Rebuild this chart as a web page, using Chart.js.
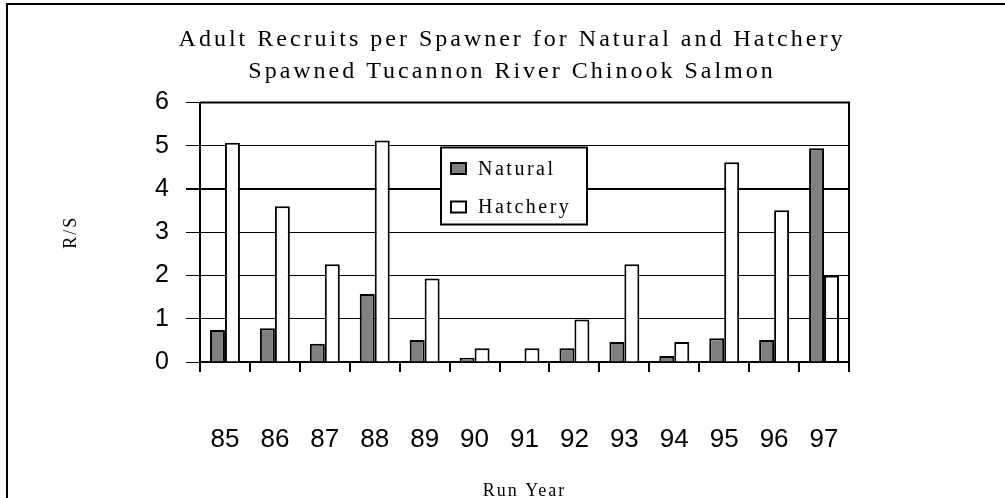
<!DOCTYPE html>
<html>
<head>
<meta charset="utf-8">
<script src="https://cdn.jsdelivr.net/npm/chart.js@4.4.1/dist/chart.umd.min.js"></script>
<style>
html,body{margin:0;padding:0;background:#fff;}
#wrap{width:1005px;height:498px;position:relative;overflow:hidden;}
canvas{display:block;}
</style>
</head>
<body>
<div id="wrap"><canvas id="c" width="1005" height="498"></canvas></div>
<script>
// ---- data ----
const runYears = ['85','86','87','88','89','90','91','92','93','94','95','96','97'];
const naturalRS = [0.74, 0.78, 0.42, 1.57, 0.51, 0.10, 0, 0.32, 0.46, 0.14, 0.55, 0.51, 4.94];
const hatcheryRS = [5.07, 3.60, 2.26, 5.12, 1.93, 0.32, 0.32, 0.98, 2.26, 0.46, 4.62, 3.51, 2.00];
const yTickValues = [0, 1, 2, 3, 4, 5, 6];
const seriesNames = ['Natural', 'Hatchery'];
const titleLines = ['Adult Recruits per Spawner for Natural and Hatchery', 'Spawned Tucannon River Chinook Salmon'];
const xAxisTitle = 'Run Year';
const yAxisTitle = 'R/S';

// ---- styles ----
const NAT_FILL = '#808080';
const HAT_FILL = '#ffffff';
const SERIF = 'Liberation Serif';
const SANS = 'Liberation Sans';
const spacingBySize = {24: '3px', 20: '2.5px', 18: '2px'};

const canvas = document.getElementById('c');
const ctx = canvas.getContext('2d');

// letter spacing for serif texts (title, axis titles)
const origFillText = ctx.fillText;
ctx.fillText = function (text, x, y, maxWidth) {
  const m = /(\d+(?:\.\d+)?)px.*Serif/.exec(this.font);
  const prev = this.letterSpacing;
  if (m && spacingBySize[Math.round(parseFloat(m[1]))]) {
    this.letterSpacing = spacingBySize[Math.round(parseFloat(m[1]))];
  }
  if (maxWidth === undefined) origFillText.call(this, text, x, y);
  else origFillText.call(this, text, x, y, maxWidth);
  this.letterSpacing = prev;
};

const framePlugin = {
  id: 'frame',
  beforeDraw(chart) {
    const c = chart.ctx;
    c.save();
    c.fillStyle = '#fff';
    c.fillRect(0, 0, chart.width, chart.height);
    c.strokeStyle = '#000';
    c.lineWidth = 2;
    c.beginPath();
    c.moveTo(7, chart.height + 5);
    c.lineTo(7, 4);
    c.lineTo(chart.width + 5, 4);
    c.stroke();
    c.restore();
  },
  afterDatasetsDraw(chart) {
    const a = chart.chartArea;
    const c = chart.ctx;
    c.save();
    c.strokeStyle = '#000';
    c.lineWidth = 2;
    c.beginPath();
    c.moveTo(a.left, a.top);
    c.lineTo(a.right, a.top);
    c.lineTo(a.right, a.bottom);
    c.stroke();
    c.restore();
  }
};

const boxLegendPlugin = {
  id: 'boxLegend',
  afterDraw(chart) {
    const a = chart.chartArea;
    const c = chart.ctx;
    const x0 = a.left + 241, y0 = a.top + 45, w = 146, h = 77;
    c.save();
    c.fillStyle = '#fff';
    c.fillRect(x0, y0, w, h);
    c.strokeStyle = '#000';
    c.lineWidth = 2;
    c.strokeRect(x0, y0, w, h);
    c.font = '20px "' + SERIF + '"';
    c.textBaseline = 'middle';
    c.textAlign = 'left';
    c.letterSpacing = '2.5px';
    const legendFills = [NAT_FILL, HAT_FILL];
    chart.data.datasets.forEach((ds, i) => {
      const cy = y0 + 21 + i * 38.5;
      c.fillStyle = legendFills[i];
      c.fillRect(x0 + 10, cy - 5.5, 15, 11);
      c.strokeStyle = '#000';
      c.lineWidth = 2;
      c.strokeRect(x0 + 10, cy - 5.5, 15, 11);
      c.fillStyle = '#000';
      origFillText.call(c, ds.label, x0 + 37, cy + 1);
    });
    c.restore();
  }
};

new Chart(ctx, {
  type: 'bar',
  data: {
    labels: runYears,
    datasets: [
      {
        label: seriesNames[0],
        data: naturalRS,
        backgroundColor: NAT_FILL,
        borderColor: '#000',
        borderWidth: 2,
        categoryPercentage: 0.6,
        barPercentage: 1.0
      },
      {
        label: seriesNames[1],
        data: hatcheryRS,
        backgroundColor: hatcheryRS.map((v, i) => i === hatcheryRS.length - 1 ? 'rgba(255,255,255,0)' : HAT_FILL),
        borderColor: '#000',
        borderWidth: 2,
        categoryPercentage: 0.6,
        barPercentage: 1.0
      }
    ]
  },
  options: {
    responsive: false,
    animation: false,
    devicePixelRatio: 1,
    layout: { padding: { left: 19, right: 0, top: 0, bottom: 0 } },
    plugins: {
      legend: { display: false },
      tooltip: { enabled: false },
      title: {
        display: true,
        text: titleLines,
        color: '#000',
        font: { family: SERIF, size: 24, weight: 'normal', lineHeight: 32 / 24 },
        padding: { top: 24, bottom: 14.5 }
      }
    },
    scales: {
      x: {
        grid: { display: true, drawOnChartArea: false, drawTicks: true, tickLength: 10, color: '#000', lineWidth: 2, offset: true },
        border: { display: true, color: '#000', width: 2 },
        ticks: { color: '#000', font: { family: SANS, size: 26 }, padding: 52, maxRotation: 0, autoSkip: false },
        title: { display: true, text: xAxisTitle, color: '#000', font: { family: SERIF, size: 18, weight: 'normal', lineHeight: 0.8 }, padding: { top: 0, bottom: 0 } },
        afterFit: s => { s.height = 136; }
      },
      y: {
        min: 0,
        max: 6,
        afterBuildTicks: s => { s.ticks = yTickValues.map(v => ({ value: v })); },
        ticks: { color: '#000', font: { family: SANS, size: 25 }, padding: 17 },
        grid: { color: '#000', lineWidth: c => (c.tick && c.tick.value === 4 ? 2 : 1), drawTicks: true, tickLength: 14 },
        border: { display: true, color: '#000', width: 2 },
        title: { display: true, text: yAxisTitle, color: '#000', font: { family: SERIF, size: 18, weight: 'normal' }, padding: { top: 41, bottom: 0 } },
        afterFit: s => { s.width = 181; }
      },
      spacer: {
        type: 'linear',
        position: 'right',
        display: true,
        grid: { display: false, drawTicks: false },
        border: { display: false },
        ticks: { display: false },
        afterFit: s => { s.width = 156; }
      }
    }
  },
  plugins: [framePlugin, boxLegendPlugin]
});
</script>
</body>
</html>
